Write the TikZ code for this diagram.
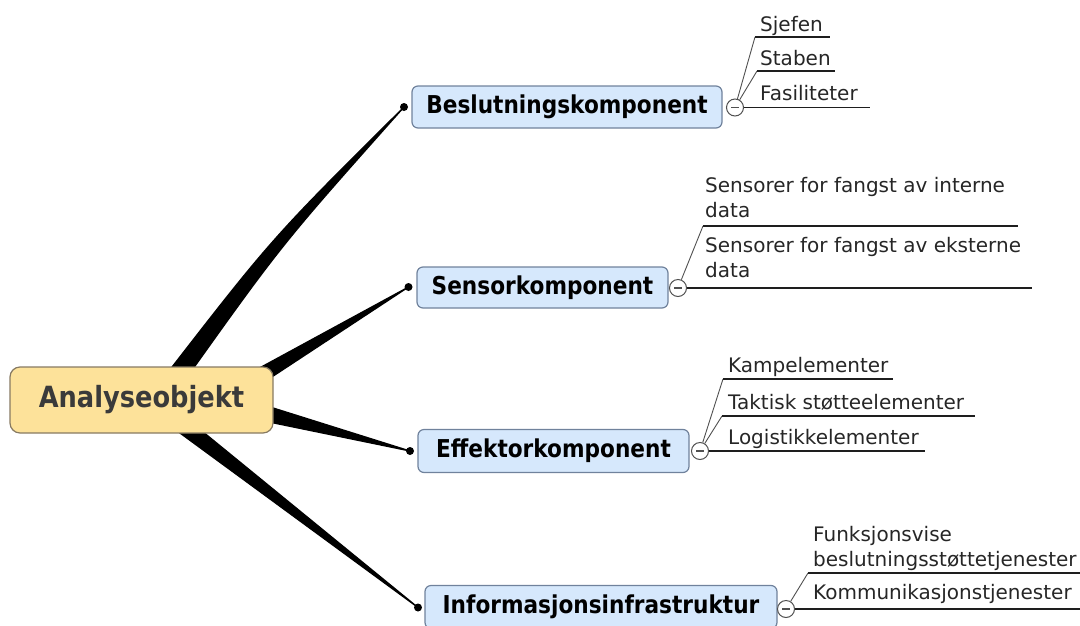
\documentclass[tikz,border=0pt]{standalone}
\usepackage{fontspec}
\setmainfont{DejaVu Sans}
\newfontfamily\headfont{DejaVu Sans}[FakeStretch=0.88]
\usetikzlibrary{calc}
\pgfdeclarelayer{background}
\pgfsetlayers{background,main}
\definecolor{rootfill}{RGB}{253,226,154}
\definecolor{rootdraw}{RGB}{135,122,98}
\definecolor{roottext}{RGB}{58,58,58}
\definecolor{brfill}{RGB}{214,232,252}
\definecolor{brdraw}{RGB}{112,130,156}
\definecolor{leafline}{RGB}{30,30,30}
\definecolor{knob}{RGB}{80,80,80}
\begin{document}
\begin{tikzpicture}[x=1pt,y=-1pt,
  rootbox/.style={draw=rootdraw,fill=rootfill,line width=1.2pt,rounded corners=10pt,
    minimum width=263pt,minimum height=66pt,inner sep=0pt,text=roottext,
    font=\headfont\bfseries\fontsize{29.2}{34}\selectfont},
  branchbox/.style={draw=brdraw,fill=brfill,line width=1.2pt,rounded corners=6pt,
    minimum height=42pt,inner sep=0pt,text=black,
    font=\headfont\bfseries\fontsize{24.6}{29}\selectfont},
  knobnode/.style={circle,draw=knob,fill=white,line width=1pt,minimum size=17pt,inner sep=0pt,
    path picture={\draw[knob,line width=1.1pt] ([xshift=4.5pt]path picture bounding box.west) -- ([xshift=-4.5pt]path picture bounding box.east);}},
  leaftext/.style={anchor=south west,inner sep=0pt,align=left,text=black!85,
    font=\fontsize{20}{25}\selectfont},
  underline/.style={draw=leafline,line width=1.1pt},
  twig/.style={draw=knob,line width=0.9pt},
  wedge/.style={fill=black,draw=black,line width=1.3pt,line join=round},
]
\useasboundingbox (0,0) rectangle (1080,625);
\clip (0,0) rectangle (1080,625);

% root
\node[rootbox] (root) at (141.5,400) {Analyseobjekt};

% branches
\node[branchbox,minimum width=310pt] (b1) at (567,107) {Beslutningskomponent};
\node[branchbox,minimum width=251pt,minimum height=41pt] (b2) at (542.5,287.5) {Sensorkomponent};
\node[branchbox,minimum width=271pt,minimum height=43pt] (b3) at (553.5,451) {Effektorkomponent};
\node[branchbox,minimum width=352pt,minimum height=43pt] (b4) at (601,607) {Informasjonsinfrastruktur};

% attachment dots
\coordinate (d1) at (404,107);
\coordinate (d2) at (408.5,287);
\coordinate (d3) at (410,451);
\coordinate (d4) at (418,607.5);

% wedge bases (hidden under root)
\coordinate (w1a) at (162,380);
\coordinate (w1b) at (185,380);
\coordinate (w2a) at (240.9,378.1);
\coordinate (w2b) at (249.4,391.7);
\coordinate (w3a) at (250.9,401.0);
\coordinate (w3b) at (246.7,417.4);
\coordinate (w4a) at (181.6,414.4);
\coordinate (w4b) at (171.8,427.0);

\begin{pgfonlayer}{background}
  \filldraw[wedge] (w1a) .. controls (272,238) .. (d1) .. controls (282,244) .. (w1b) -- cycle;
  \filldraw[wedge] (w2a) -- (d2) -- (w2b) -- cycle;
  \filldraw[wedge] (w3a) -- (d3) -- (w3b) -- cycle;
  \filldraw[wedge] (w4a) -- (d4) -- (w4b) -- cycle;
\end{pgfonlayer}
\foreach \d in {d1,d2,d3,d4} \fill (\d) circle (4);

% knobs
\node[knobnode] (k1) at (735,107.5) {};
\node[knobnode] (k2) at (678,288) {};
\node[knobnode] (k3) at (700,451) {};
\node[knobnode] (k4) at (786,609) {};

% leaves of b1
\coordinate (u11) at (755,37);  \coordinate (u11e) at (830,37);
\coordinate (u12) at (757,71);  \coordinate (u12e) at (835,71);
\coordinate (u13e) at (870,107.5);
\draw[twig] (k1) -- (u11);
\draw[twig] (k1) -- (u12);
\draw[underline] (u11) -- (u11e);
\draw[underline] (u12) -- (u12e);
\draw[underline] (k1) -- (u13e);
\node[leaftext] (t11) at (760,39.5) {Sjefen\strut};
\node[leaftext] (t12) at (760,73.5) {Staben\strut};
\node[leaftext] (t13) at (760,108.5) {Fasiliteter\strut};

% leaves of b2
\coordinate (u21) at (703,226); \coordinate (u21e) at (1018,226);
\coordinate (u22e) at (1032,288);
\draw[twig] (k2) -- (u21);
\draw[underline] (u21) -- (u21e);
\draw[underline] (k2) -- (u22e);
\node[leaftext] (t21) at (705,225.5) {Sensorer for fangst av interne\\data\strut};
\node[leaftext] (t22) at (705,285.5) {Sensorer for fangst av eksterne\\data\strut};

% leaves of b3
\coordinate (u31) at (723,379); \coordinate (u31e) at (893,379);
\coordinate (u32) at (722,416); \coordinate (u32e) at (975,416);
\coordinate (u33e) at (925,451);
\draw[twig] (k3) -- (u31);
\draw[twig] (k3) -- (u32);
\draw[underline] (u31) -- (u31e);
\draw[underline] (u32) -- (u32e);
\draw[underline] (k3) -- (u33e);
\node[leaftext] (t31) at (728,380.5) {Kampelementer\strut};
\node[leaftext] (t32) at (728,417.5) {Taktisk støtteelementer\strut};
\node[leaftext] (t33) at (728,452.5) {Logistikkelementer\strut};

% leaves of b4
\coordinate (u41) at (808,573); \coordinate (u41e) at (1080,573);
\coordinate (u42e) at (1080,609);
\draw[twig] (k4) -- (u41);
\draw[underline] (u41) -- (u41e);
\draw[underline] (k4) -- (u42e);
\node[leaftext] (t41) at (813,574.5) {Funksjonsvise\\beslutningsstøttetjenester\strut};
\node[leaftext] (t42) at (813,607.5) {Kommunikasjonstjenester\strut};
\end{tikzpicture}
\end{document}
